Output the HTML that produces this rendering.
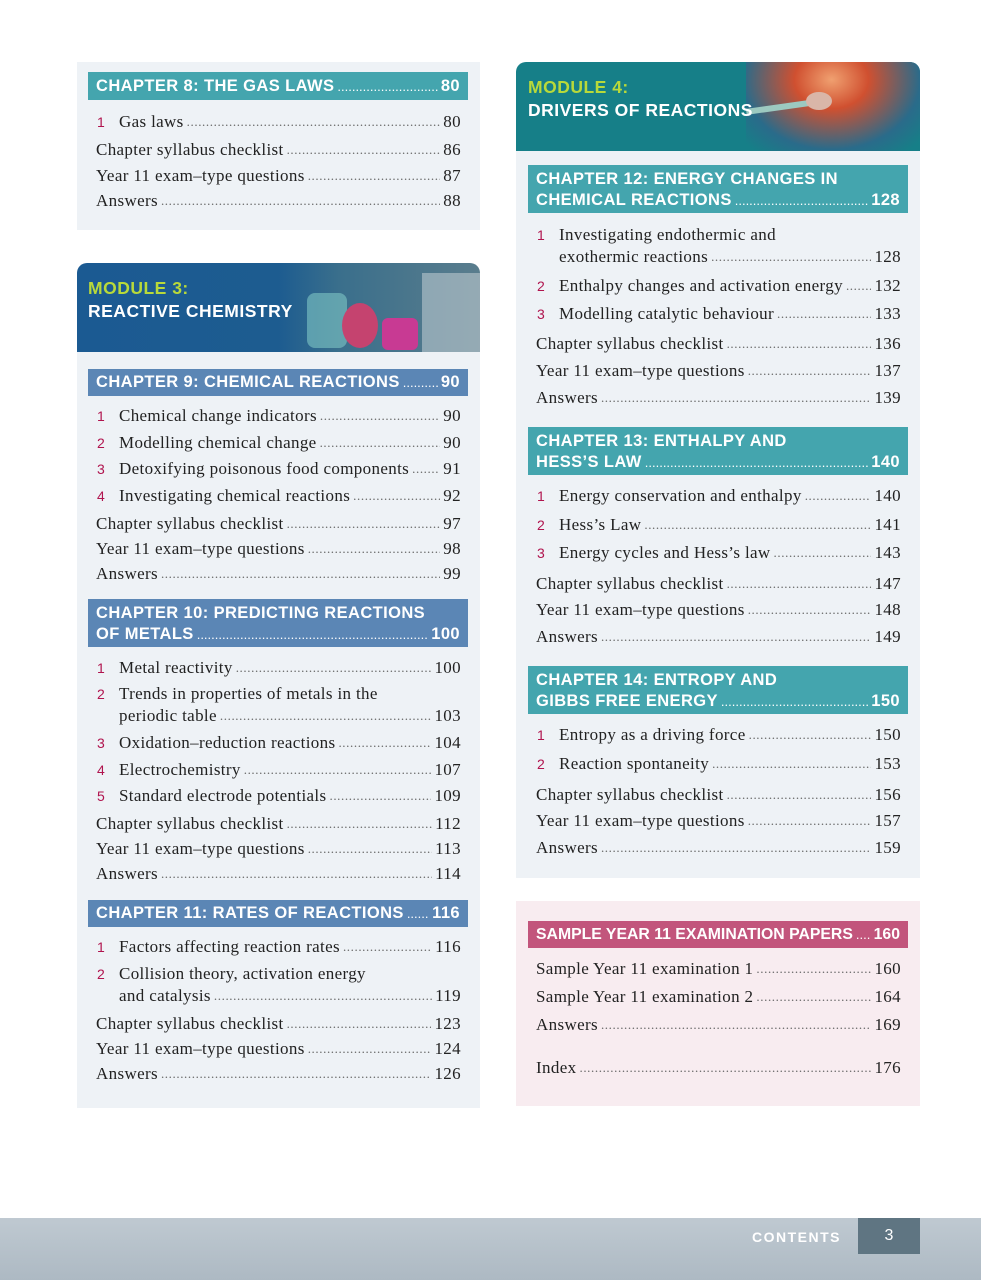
<!DOCTYPE html>
<html><head><meta charset="utf-8"><style>
body{margin:0;width:981px;height:1280px;position:relative;background:#fff;overflow:hidden;font-family:"Liberation Serif",serif}
.p{position:absolute}
.r{position:absolute;display:flex;font-size:17px;letter-spacing:0.35px;color:#222;height:20px;line-height:20px;white-space:nowrap}
.r .d{flex:1;overflow:hidden;color:#666;margin:0 3px;font-size:13px;letter-spacing:0.6px}
.r .d::before{content:"............................................................................................................................................................................................"}
.r .n{position:absolute;left:-22px;color:#b0144e;font-family:"Liberation Sans",sans-serif;font-size:14px}
.h{position:absolute;color:#fff;font-family:"Liberation Sans",sans-serif;font-weight:bold;font-size:16.5px;letter-spacing:0.4px;line-height:21px;padding:0 8px;box-sizing:border-box}
.h .l{display:flex;white-space:nowrap}
.h .d{flex:1;overflow:hidden;margin:0 3px;font-weight:normal;font-size:13px;letter-spacing:0}
.h .d::before{content:"..................................................................................................................."}
.mod{position:absolute;font-family:"Liberation Sans",sans-serif;font-weight:bold;font-size:17.5px;letter-spacing:0.5px;line-height:23px;color:#fff}
.mod span{color:#b8d93a}
</style></head><body>

<div class="p" style="left:77px;top:62px;width:403px;height:168px;background:#eef2f6"></div>
<div class="h" style="left:88px;top:72px;width:380px;height:28px;background:#44a5ae;padding-top:4px"><div class="l">CHAPTER 8: THE GAS LAWS<span class="d"></span>80</div></div>
<div class="r" style="left:119px;top:112px;width:342px"><span class="n">1</span>Gas laws<span class="d"></span>80</div>
<div class="r" style="left:96px;top:140px;width:365px">Chapter syllabus checklist<span class="d"></span>86</div>
<div class="r" style="left:96px;top:166px;width:365px">Year 11 exam–type questions<span class="d"></span>87</div>
<div class="r" style="left:96px;top:191px;width:365px">Answers<span class="d"></span>88</div>

<div class="p" style="left:77px;top:263px;width:403px;height:89px;border-radius:10px 10px 0 0;background:linear-gradient(90deg,#1b5a92 0%,#1d5c90 50%,#3a6f8c 65%,#5a7d8d 100%);overflow:hidden">
<div class="p" style="left:230px;top:30px;width:40px;height:55px;background:#7fc6c4;opacity:.6;border-radius:8px"></div>
<div class="p" style="left:265px;top:40px;width:36px;height:45px;background:#c5436f;border-radius:50%"></div>
<div class="p" style="left:305px;top:55px;width:36px;height:32px;background:#c83a93;border-radius:6px"></div>
<div class="p" style="left:345px;top:10px;width:60px;height:79px;background:#cfd8dc;opacity:.5"></div>
</div>
<div class="mod" style="left:88px;top:277px"><span>MODULE 3:</span><br>REACTIVE CHEMISTRY</div>

<div class="p" style="left:77px;top:352px;width:403px;height:756px;background:#eef2f6"></div>
<div class="h" style="left:88px;top:369px;width:380px;height:27px;background:#5b86b5;padding-top:3px"><div class="l">CHAPTER 9: CHEMICAL REACTIONS<span class="d"></span>90</div></div>
<div class="r" style="left:119px;top:406px;width:342px"><span class="n">1</span>Chemical change indicators<span class="d"></span>90</div>
<div class="r" style="left:119px;top:433px;width:342px"><span class="n">2</span>Modelling chemical change<span class="d"></span>90</div>
<div class="r" style="left:119px;top:459px;width:342px"><span class="n">3</span>Detoxifying poisonous food components<span class="d"></span>91</div>
<div class="r" style="left:119px;top:486px;width:342px"><span class="n">4</span>Investigating chemical reactions<span class="d"></span>92</div>
<div class="r" style="left:96px;top:514px;width:365px">Chapter syllabus checklist<span class="d"></span>97</div>
<div class="r" style="left:96px;top:539px;width:365px">Year 11 exam–type questions<span class="d"></span>98</div>
<div class="r" style="left:96px;top:564px;width:365px">Answers<span class="d"></span>99</div>

<div class="h" style="left:88px;top:599px;width:380px;height:48px;background:#5b86b5;padding-top:4px">CHAPTER 10: PREDICTING REACTIONS<div class="l">OF METALS<span class="d"></span>100</div></div>
<div class="r" style="left:119px;top:658px;width:342px"><span class="n">1</span>Metal reactivity<span class="d"></span>100</div>
<div class="r" style="left:119px;top:684px;width:342px"><span class="n">2</span>Trends in properties of metals in the</div>
<div class="r" style="left:119px;top:706px;width:342px">periodic table<span class="d"></span>103</div>
<div class="r" style="left:119px;top:733px;width:342px"><span class="n">3</span>Oxidation–reduction reactions<span class="d"></span>104</div>
<div class="r" style="left:119px;top:760px;width:342px"><span class="n">4</span>Electrochemistry<span class="d"></span>107</div>
<div class="r" style="left:119px;top:786px;width:342px"><span class="n">5</span>Standard electrode potentials<span class="d"></span>109</div>
<div class="r" style="left:96px;top:814px;width:365px">Chapter syllabus checklist<span class="d"></span>112</div>
<div class="r" style="left:96px;top:839px;width:365px">Year 11 exam–type questions<span class="d"></span>113</div>
<div class="r" style="left:96px;top:864px;width:365px">Answers<span class="d"></span>114</div>

<div class="h" style="left:88px;top:900px;width:380px;height:27px;background:#5b86b5;padding-top:3px"><div class="l">CHAPTER 11: RATES OF REACTIONS<span class="d"></span>116</div></div>
<div class="r" style="left:119px;top:937px;width:342px"><span class="n">1</span>Factors affecting reaction rates<span class="d"></span>116</div>
<div class="r" style="left:119px;top:964px;width:342px"><span class="n">2</span>Collision theory, activation energy</div>
<div class="r" style="left:119px;top:986px;width:342px">and catalysis<span class="d"></span>119</div>
<div class="r" style="left:96px;top:1014px;width:365px">Chapter syllabus checklist<span class="d"></span>123</div>
<div class="r" style="left:96px;top:1039px;width:365px">Year 11 exam–type questions<span class="d"></span>124</div>
<div class="r" style="left:96px;top:1064px;width:365px">Answers<span class="d"></span>126</div>

<div class="p" style="left:516px;top:62px;width:404px;height:89px;border-radius:10px 10px 0 0;background:#167f88;overflow:hidden">
<div class="p" style="left:230px;top:-10px;width:190px;height:110px;background:radial-gradient(ellipse at 45% 25%,#f0a070 0%,#d05030 25%,#2a6b8a 60%,#167f88 80%)"></div>
<div class="p" style="left:230px;top:42px;width:70px;height:6px;background:#9cc9c0;transform:rotate(-8deg)"></div>
<div class="p" style="left:290px;top:30px;width:26px;height:18px;background:#d9b6a8;border-radius:50%"></div>
</div>
<div class="mod" style="left:528px;top:76px"><span>MODULE 4:</span><br>DRIVERS OF REACTIONS</div>

<div class="p" style="left:516px;top:151px;width:404px;height:727px;background:#eef2f6"></div>
<div class="h" style="left:528px;top:165px;width:380px;height:48px;background:#44a5ae;padding-top:4px">CHAPTER 12: ENERGY CHANGES IN<div class="l">CHEMICAL REACTIONS<span class="d"></span>128</div></div>
<div class="r" style="left:559px;top:225px;width:342px"><span class="n">1</span>Investigating endothermic and</div>
<div class="r" style="left:559px;top:247px;width:342px">exothermic reactions<span class="d"></span>128</div>
<div class="r" style="left:559px;top:276px;width:342px"><span class="n">2</span>Enthalpy changes and activation energy<span class="d"></span>132</div>
<div class="r" style="left:559px;top:304px;width:342px"><span class="n">3</span>Modelling catalytic behaviour<span class="d"></span>133</div>
<div class="r" style="left:536px;top:334px;width:365px">Chapter syllabus checklist<span class="d"></span>136</div>
<div class="r" style="left:536px;top:361px;width:365px">Year 11 exam–type questions<span class="d"></span>137</div>
<div class="r" style="left:536px;top:388px;width:365px">Answers<span class="d"></span>139</div>

<div class="h" style="left:528px;top:427px;width:380px;height:48px;background:#44a5ae;padding-top:4px">CHAPTER 13: ENTHALPY AND<div class="l">HESS’S LAW<span class="d"></span>140</div></div>
<div class="r" style="left:559px;top:486px;width:342px"><span class="n">1</span>Energy conservation and enthalpy<span class="d"></span>140</div>
<div class="r" style="left:559px;top:515px;width:342px"><span class="n">2</span>Hess’s Law<span class="d"></span>141</div>
<div class="r" style="left:559px;top:543px;width:342px"><span class="n">3</span>Energy cycles and Hess’s law<span class="d"></span>143</div>
<div class="r" style="left:536px;top:574px;width:365px">Chapter syllabus checklist<span class="d"></span>147</div>
<div class="r" style="left:536px;top:600px;width:365px">Year 11 exam–type questions<span class="d"></span>148</div>
<div class="r" style="left:536px;top:627px;width:365px">Answers<span class="d"></span>149</div>

<div class="h" style="left:528px;top:666px;width:380px;height:48px;background:#44a5ae;padding-top:4px">CHAPTER 14: ENTROPY AND<div class="l">GIBBS FREE ENERGY<span class="d"></span>150</div></div>
<div class="r" style="left:559px;top:725px;width:342px"><span class="n">1</span>Entropy as a driving force<span class="d"></span>150</div>
<div class="r" style="left:559px;top:754px;width:342px"><span class="n">2</span>Reaction spontaneity<span class="d"></span>153</div>
<div class="r" style="left:536px;top:785px;width:365px">Chapter syllabus checklist<span class="d"></span>156</div>
<div class="r" style="left:536px;top:811px;width:365px">Year 11 exam–type questions<span class="d"></span>157</div>
<div class="r" style="left:536px;top:838px;width:365px">Answers<span class="d"></span>159</div>

<div class="p" style="left:516px;top:901px;width:404px;height:205px;background:#f8ecf0"></div>
<div class="h" style="left:528px;top:921px;width:380px;height:27px;background:#c2557c;padding-top:3px;font-size:15.8px;letter-spacing:0"><div class="l">SAMPLE YEAR 11 EXAMINATION PAPERS<span class="d"></span>160</div></div>
<div class="r" style="left:536px;top:959px;width:365px">Sample Year 11 examination 1<span class="d"></span>160</div>
<div class="r" style="left:536px;top:987px;width:365px">Sample Year 11 examination 2<span class="d"></span>164</div>
<div class="r" style="left:536px;top:1015px;width:365px">Answers<span class="d"></span>169</div>
<div class="r" style="left:536px;top:1058px;width:365px">Index<span class="d"></span>176</div>

<div class="p" style="left:0;top:1218px;width:981px;height:62px;background:linear-gradient(180deg,#bfc9d1,#adb9c3)"></div>
<div class="p" style="left:752px;top:1229px;font-family:'Liberation Sans',sans-serif;font-weight:bold;font-size:14px;letter-spacing:1.5px;color:#fff">CONTENTS</div>
<div class="p" style="left:858px;top:1218px;width:62px;height:36px;background:#5f7582;color:#fff;font-family:'Liberation Sans',sans-serif;font-size:16px;text-align:center;line-height:36px">3</div>
</body></html>
